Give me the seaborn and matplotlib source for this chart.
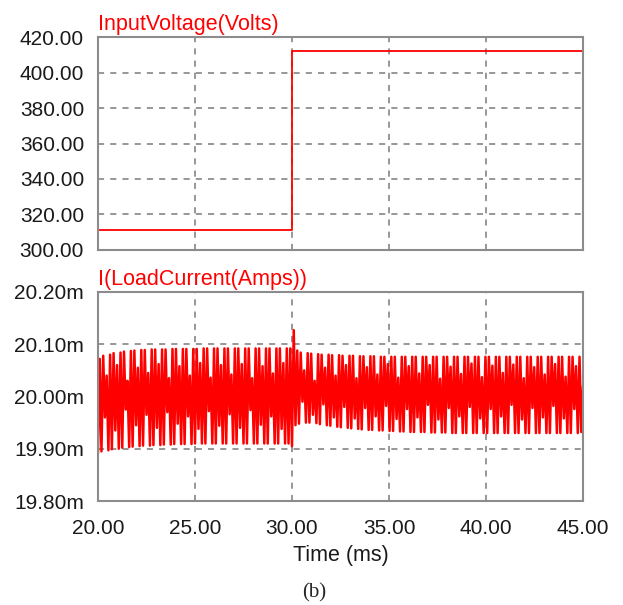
import matplotlib

matplotlib.use("Agg")

import matplotlib.pyplot as plt
import numpy as np
import pandas as pd
import seaborn as sns

# input voltage step (Volts)
volt_time = [20.0, 30.0, 30.0, 45.0]
volt_value = [311.0, 311.0, 412.0, 412.0]

# load current ripple extrema in mA, before the step (20-30 ms)
pre_hi = [
    20.072, 20.078, 20.040, 20.080, 20.083, 20.060, 20.084, 20.086, 20.030, 20.087, 20.088, 20.055, 20.089, 20.089,
    20.045, 20.090, 20.090, 20.062, 20.090, 20.090, 20.035, 20.091, 20.091, 20.058, 20.091, 20.091, 20.040, 20.091,
    20.091, 20.064, 20.092, 20.092, 20.036, 20.092, 20.092, 20.060, 20.092, 20.092, 20.042, 20.092, 20.092, 20.062,
    20.092, 20.092, 20.035, 20.092, 20.092, 20.058, 20.092, 20.092, 20.044, 20.092, 20.092, 20.064, 20.092, 20.092,
]
pre_lo = [
    19.892, 19.895, 19.960, 19.897, 19.899, 19.935, 19.900, 19.902, 19.975, 19.903, 19.904, 19.945, 19.905, 19.906,
    19.965, 19.906, 19.907, 19.940, 19.907, 19.908, 19.970, 19.908, 19.909, 19.948, 19.909, 19.909, 19.962, 19.909,
    19.910, 19.938, 19.910, 19.910, 19.972, 19.910, 19.910, 19.944, 19.910, 19.910, 19.966, 19.910, 19.910, 19.940,
    19.910, 19.910, 19.974, 19.910, 19.910, 19.946, 19.910, 19.910, 19.962, 19.910, 19.910, 19.938, 19.910, 19.910,
]

# after the step (30-45 ms)
post_hi = [
    20.127, 20.088, 20.084, 20.050, 20.083, 20.082, 20.030, 20.081, 20.080, 20.055, 20.080, 20.079, 20.040, 20.079,
    20.078, 20.060, 20.078, 20.078, 20.035, 20.077, 20.077, 20.056, 20.077, 20.077, 20.042, 20.076, 20.076, 20.062,
    20.076, 20.076, 20.036, 20.076, 20.076, 20.058, 20.076, 20.076, 20.044, 20.076, 20.076, 20.060, 20.076, 20.076,
    20.034, 20.076, 20.076, 20.057, 20.076, 20.076, 20.043, 20.076, 20.076, 20.063, 20.076, 20.076, 20.037, 20.076,
    20.076, 20.059, 20.076, 20.076, 20.045, 20.076, 20.076, 20.061, 20.076, 20.076, 20.035, 20.076, 20.076, 20.056,
    20.076, 20.076, 20.042, 20.076, 20.076, 20.062, 20.076, 20.076, 20.038, 20.076, 20.076, 20.058, 20.076, 20.020,
]
post_lo = [
    19.905, 19.945, 19.948, 19.990, 19.950, 19.950, 19.965, 19.949, 19.947, 19.985, 19.945, 19.944, 19.960, 19.942,
    19.941, 19.980, 19.940, 19.939, 19.958, 19.938, 19.937, 19.978, 19.936, 19.936, 19.962, 19.935, 19.935, 19.982,
    19.934, 19.934, 19.957, 19.933, 19.933, 19.976, 19.932, 19.932, 19.960, 19.932, 19.932, 19.984, 19.931, 19.931,
    19.956, 19.931, 19.931, 19.978, 19.930, 19.930, 19.962, 19.930, 19.930, 19.980, 19.930, 19.930, 19.958, 19.930,
    19.930, 19.976, 19.930, 19.930, 19.962, 19.930, 19.930, 19.984, 19.930, 19.930, 19.956, 19.930, 19.930, 19.978,
    19.930, 19.930, 19.960, 19.930, 19.930, 19.982, 19.930, 19.930, 19.958, 19.930, 19.930, 19.976, 19.930, 19.932,
]

volt_ticks = [300, 320, 340, 360, 380, 400, 420]
amp_ticks = [19.80, 19.90, 20.00, 20.10, 20.20]
time_ticks = [20, 25, 30, 35, 40, 45]


def interleave(lo, hi):
    out = []
    for a, b in zip(lo, hi):
        out.extend([a, b])
    return out


pre = interleave(pre_lo, pre_hi)
post = interleave(post_lo, post_hi)
t_pre = np.linspace(20.0, 30.0, len(pre), endpoint=False)
t_post = np.linspace(30.0, 45.0, len(post))
cur = pd.DataFrame({"t": np.concatenate([t_pre, t_post]), "i": pre + post})
volt = pd.DataFrame({"t": volt_time, "v": volt_value})

sns.set_theme(style="white")
plt.rcParams["font.family"] = ["Liberation Sans", "DejaVu Sans"]

RED = "#ff0000"
FRAME = "#8c8c8c"
GRID = "#7a7a7a"
TXT = "#1a1a1a"

fig = plt.figure(figsize=(6.23, 6.05), dpi=100)
ax1 = fig.add_axes([0.1573, 0.5868, 0.7785, 0.352])
ax2 = fig.add_axes([0.1573, 0.1719, 0.7785, 0.3455])

sns.lineplot(data=volt, x="t", y="v", ax=ax1, color=RED, lw=1.3, estimator=None, sort=False)
sns.lineplot(data=cur, x="t", y="i", ax=ax2, color=RED, lw=1.8, estimator=None, sort=False)

for ax, ticks in ((ax1, volt_ticks), (ax2, amp_ticks)):
    ax.set_xlim(20, 45)
    ax.set_ylim(ticks[0], ticks[-1])
    ax.set_xticks(time_ticks)
    ax.set_yticks(ticks)
    ax.grid(True, color=GRID, linestyle=(0, (4, 4)), linewidth=1.1)
    ax.tick_params(length=0, labelsize=15, colors=TXT, pad=10)
    for sp in ax.spines.values():
        sp.set_color(FRAME)
        sp.set_linewidth(1.5)
    ax.set_xlabel("")
    ax.set_ylabel("")

ax1.set_yticklabels([f"{v:.2f}" for v in volt_ticks])
ax1.set_xticklabels([])
ax2.set_yticklabels([f"{v:.2f}m" for v in amp_ticks])
ax2.set_xticklabels([f"{v:.2f}" for v in time_ticks])
ax2.tick_params(axis="x", pad=13)

ax1.text(0.0, 1.01, "InputVoltage(Volts)", transform=ax1.transAxes, color=RED, fontsize=15.5, ha="left", va="bottom")
ax2.text(0.0, 1.01, "I(LoadCurrent(Amps))", transform=ax2.transAxes, color=RED, fontsize=15.5, ha="left", va="bottom")
ax2.set_xlabel("Time (ms)", fontsize=15.5, color=TXT, labelpad=5)

fig.text(0.504, 0.004, "(b)", family=["Liberation Serif", "DejaVu Serif"], fontsize=15, ha="center", va="bottom")

fig.savefig("out.png", dpi=100, facecolor="white")
